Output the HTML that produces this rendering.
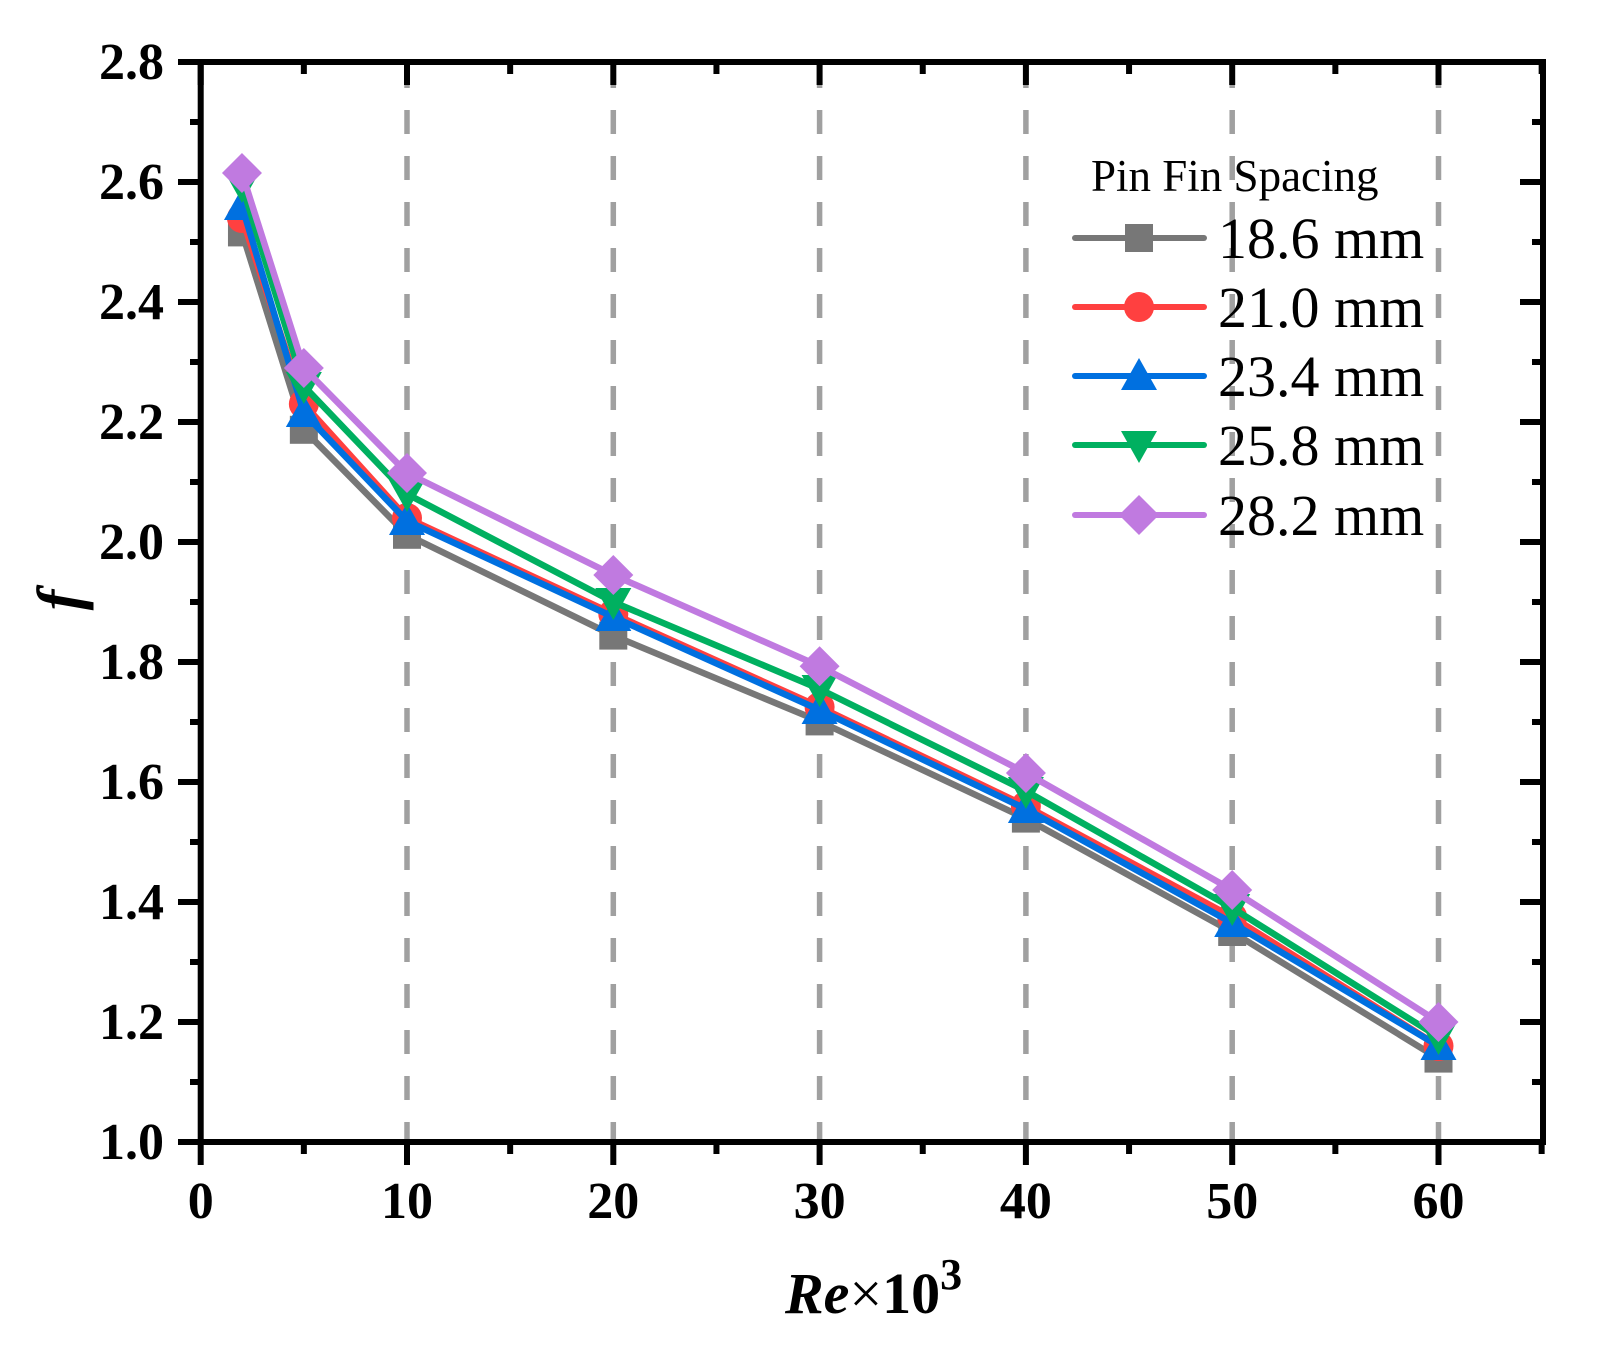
<!DOCTYPE html>
<html><head><meta charset="utf-8"><style>body{margin:0;background:#fff}</style></head><body>
<svg width="1601" height="1359" xmlns="http://www.w3.org/2000/svg" font-family="'Liberation Serif', 'Times New Roman', serif">
<defs>
<g id="sq"><rect x="-14" y="-14" width="28" height="28" fill="#777"/></g>
<g id="ci"><circle r="15" fill="#ff4040"/></g>
<g id="tu"><polygon points="0,-18 18,14 -18,14" fill="#0070e0"/></g>
<g id="td"><polygon points="0,18 18,-14 -18,-14" fill="#00b060"/></g>
<g id="di"><polygon points="0,-20 20,0 0,20 -20,0" fill="#c07ae0"/></g>
</defs>
<g id="plot"></g>
</svg>
<script>
const X=v=>200.7+20.63*v, Y=v=>1142-(v-1)*600;
const g=document.getElementById('plot');
let h='';
for(let v=10;v<=60;v+=10)h+=`<line x1="${X(v)}" y1="64" x2="${X(v)}" y2="1140" stroke="#a0a0a0" stroke-width="5.5" stroke-dasharray="24,22"/>`;
const xs=[2,5,10,20,30,40,50,60];
const S=[
['#777','sq',[2.516,2.187,2.012,1.844,1.701,1.539,1.35,1.139]],
['#ff4040','ci',[2.54,2.23,2.04,1.88,1.725,1.56,1.375,1.16]],
['#0070e0','tu',[2.56,2.215,2.035,1.875,1.72,1.555,1.365,1.16]],
['#00b060','td',[2.595,2.26,2.08,1.90,1.755,1.585,1.39,1.175]],
['#c07ae0','di',[2.615,2.29,2.115,1.945,1.793,1.615,1.42,1.20]]];
S.forEach(s=>{h+=`<polyline fill="none" stroke="${s[0]}" stroke-width="6.5" stroke-linejoin="round" points="${xs.map((x,i)=>X(x)+','+Y(s[2][i])).join(' ')}"/>`;
xs.forEach((x,i)=>h+=`<use href="#${s[1]}" x="${X(x)}" y="${Y(s[2][i])}"/>`);});
h+=`<rect x="${X(0)}" y="62" width="${1543-X(0)}" height="1080" fill="none" stroke="#000" stroke-width="6"/>`;
for(let v=0;v<=65;v+=5){const M=v%10==0;
 h+=`<line x1="${X(v)}" y1="1142" x2="${X(v)}" y2="${M?1165:1154}" stroke="#000" stroke-width="6"/>`;
 h+=`<line x1="${X(v)}" y1="62" x2="${X(v)}" y2="${M?85:74}" stroke="#000" stroke-width="6"/>`;
 if(M&&v<=60)h+=`<text x="${X(v)}" y="1218" font-size="52" font-weight="bold" text-anchor="middle">${v}</text>`;}
for(let i=0;i<=18;i++){const v=1+i*0.1,M=i%2==0;
 h+=`<line x1="${M?178:190}" y1="${Y(v)}" x2="200" y2="${Y(v)}" stroke="#000" stroke-width="6"/>`;
 h+=`<line x1="1543" y1="${Y(v)}" x2="${M?1520:1532}" y2="${Y(v)}" stroke="#000" stroke-width="6"/>`;
 if(M)h+=`<text x="164" y="${Y(v)+17}" font-size="52" font-weight="bold" text-anchor="end">${v.toFixed(1)}</text>`;}
h+=`<text x="1091" y="191" font-size="45">Pin Fin Spacing</text>`;
const L=['18.6 mm','21.0 mm','23.4 mm','25.8 mm','28.2 mm'],ly=[238,307,376,445,515];
S.forEach((s,i)=>{h+=`<line x1="1075" y1="${ly[i]}" x2="1204" y2="${ly[i]}" stroke="${s[0]}" stroke-width="6" stroke-linecap="round"/><use href="#${s[1]}" x="1139" y="${ly[i]}"/><text x="1218" y="${ly[i]+20}" font-size="58">${L[i]}</text>`;});
h+=`<text transform="translate(80,600) rotate(-90)" font-size="62" font-weight="bold" font-style="italic" text-anchor="middle">f</text>`;
h+=`<text x="785" y="1313" font-size="58" font-weight="bold"><tspan font-style="italic">Re</tspan><tspan font-weight="normal">×</tspan>10<tspan dy="-24" font-size="44">3</tspan></text>`;
g.innerHTML=h;
</script>
</body></html>
